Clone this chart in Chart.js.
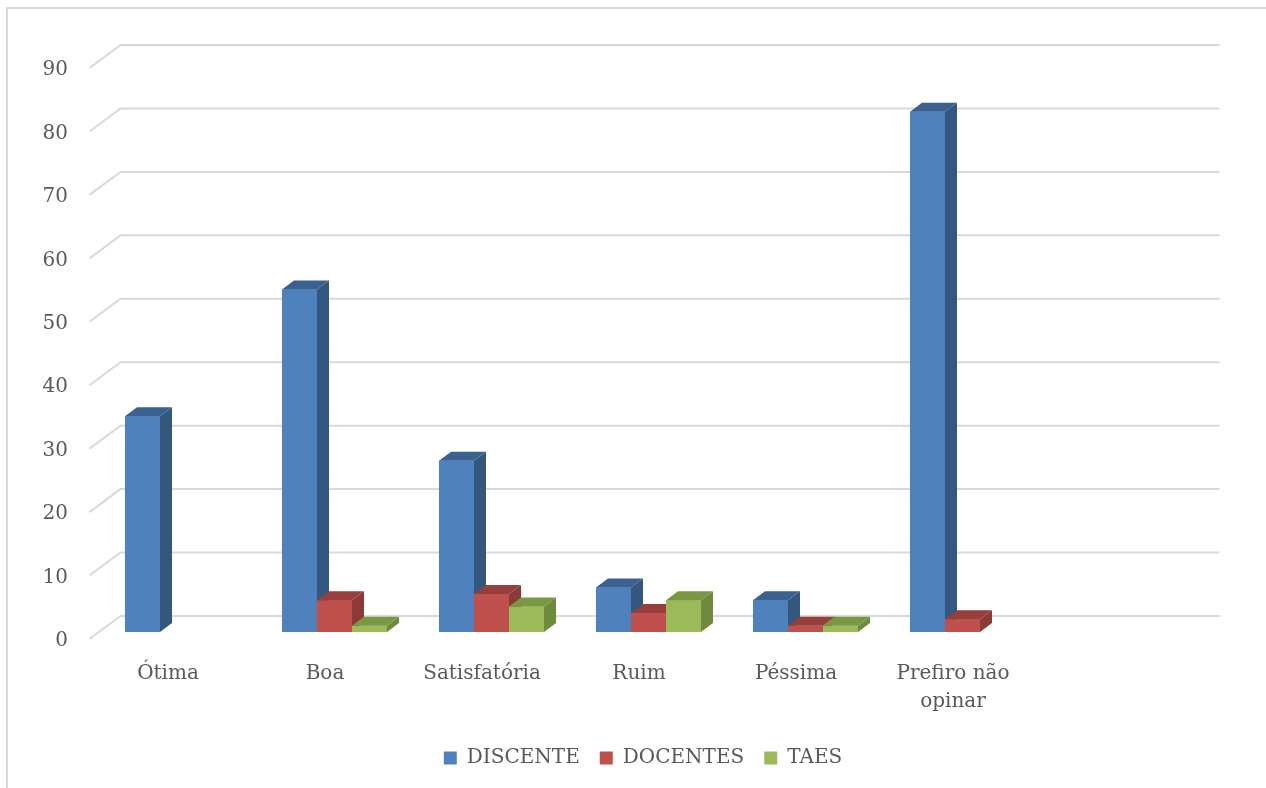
<!DOCTYPE html>
<html>
<head>
<meta charset="utf-8">
<script src="https://cdn.jsdelivr.net/npm/chart.js@4/dist/chart.umd.min.js"></script>
<style>
  html, body { margin: 0; padding: 0; background: #fff; }
  #wrap { width: 1266px; height: 788px; position: relative; }
</style>
</head>
<body>
<div id="wrap"><canvas id="grafico"></canvas></div>
<script>
// dados
const categorias = ['Ótima', 'Boa', 'Satisfatória', 'Ruim', 'Péssima', ['Prefiro não', 'opinar'], ''];
const discente = [34, 54, 27, 7, 5, 82, null];
const docentes = [null, 5, 6, 3, 1, 2, null];
const taes = [null, 1, 4, 5, 1, null, null];
const escalaY = [0, 90, 10]; // min, max, passo

const FONTE = '"DejaVu Serif", serif';
const COR_TEXTO = '#595959';
const PROF_X = 12, PROF_Y = 9;      // profundidade das barras
const FRENTE_X = -9.5, FRENTE_Y = 7; // plano da frente
const FUNDO_X = 21.5, FUNDO_Y = -16; // parede do fundo

// cores das faces laterais e de cima
const faces = [
    { lado: '#34577f', topo: '#3b6190' },
    { lado: '#8c3a37', topo: '#973f3c' },
    { lado: '#6f8a3c', topo: '#7a9743' }
];

const efeito3d = {
    id: 'efeito3d',
    beforeDraw(chart) {
        const c = chart.ctx;
        c.save();
        c.fillStyle = '#fff';
        c.fillRect(0, 0, chart.width, chart.height);
        c.strokeStyle = '#d9d9d9';
        c.lineWidth = 2;
        c.strokeRect(7, 8, chart.width + 20, chart.height + 20);
        c.restore();
    },
    afterLayout(chart) {
        // centrar a legenda como no original
        chart.legend.left += 44;
        chart.legend.right += 44;
    },
    beforeDatasetsDraw(chart) {
        const c = chart.ctx;
        const a = chart.chartArea;
        const y = chart.scales.y;
        c.save();
        c.strokeStyle = '#d9d9d9';
        c.lineWidth = 2;
        y.ticks.forEach(t => {
            const py = y.getPixelForValue(t.value);
            c.beginPath();
            c.moveTo(a.left + FRENTE_X, py + FRENTE_Y);
            c.lineTo(a.left + FUNDO_X, py + FUNDO_Y);
            c.lineTo(a.right + FUNDO_X, py + FUNDO_Y);
            c.stroke();
        });
        c.restore();
    },
    afterDatasetsDraw(chart) {
        // redesenha as barras na ordem das séries, com as faces de cima e do lado
        const c = chart.ctx;
        chart.data.datasets.forEach((ds, d) => {
            const meta = chart.getDatasetMeta(d);
            const f = faces[d];
            meta.data.forEach((bar, i) => {
                if (ds.data[i] == null) return;
                bar.draw(c, chart.chartArea);
                const p = bar.getProps(['x', 'y', 'base', 'width'], true);
                const l = p.x - p.width / 2, r = p.x + p.width / 2;
                c.save();
                c.fillStyle = f.lado;
                c.beginPath();
                c.moveTo(r, p.y);
                c.lineTo(r + PROF_X, p.y - PROF_Y);
                c.lineTo(r + PROF_X, p.base - PROF_Y);
                c.lineTo(r, p.base);
                c.closePath();
                c.fill();
                c.fillStyle = f.topo;
                c.beginPath();
                c.moveTo(l, p.y);
                c.lineTo(l + PROF_X, p.y - PROF_Y);
                c.lineTo(r + PROF_X, p.y - PROF_Y);
                c.lineTo(r, p.y);
                c.closePath();
                c.fill();
                c.restore();
            });
        });
    }
};

new Chart(document.getElementById('grafico'), {
    type: 'bar',
    data: {
        labels: categorias,
        datasets: [
            { label: 'DISCENTE', data: discente, backgroundColor: '#4f81bd' },
            { label: 'DOCENTES', data: docentes, backgroundColor: '#c0504d' },
            { label: 'TAES', data: taes, backgroundColor: '#9bbb59' }
        ]
    },
    options: {
        responsive: true,
        maintainAspectRatio: false,
        animation: false,
        layout: { padding: { top: 61, right: 68, left: 0, bottom: 10 } },
        datasets: { bar: { categoryPercentage: 0.669, barPercentage: 1, borderWidth: 0 } },
        scales: {
            x: {
                grid: { display: false, drawTicks: false },
                border: { display: false },
                ticks: {
                    color: COR_TEXTO,
                    font: { family: FONTE, size: 20, lineHeight: 1.4 },
                    padding: 28,
                    labelOffset: FRENTE_X,
                    maxRotation: 0,
                    autoSkip: false
                },
                afterFit(s) { s.height = 96; }
            },
            y: {
                min: escalaY[0],
                max: escalaY[1],
                grid: { display: false, drawTicks: false, tickLength: 0 },
                border: { display: false },
                ticks: {
                    stepSize: escalaY[2],
                    color: COR_TEXTO,
                    font: { family: FONTE, size: 20 },
                    padding: 31,
                    labelOffset: 9
                },
                afterFit(s) { s.width = 99; }
            }
        },
        plugins: {
            tooltip: { enabled: false },
            legend: {
                position: 'bottom',
                labels: {
                    boxWidth: 13,
                    boxHeight: 13,
                    padding: 20,
                    color: COR_TEXTO,
                    font: { family: FONTE, size: 20 }
                }
            }
        }
    },
    plugins: [efeito3d]
});
</script>
</body>
</html>
